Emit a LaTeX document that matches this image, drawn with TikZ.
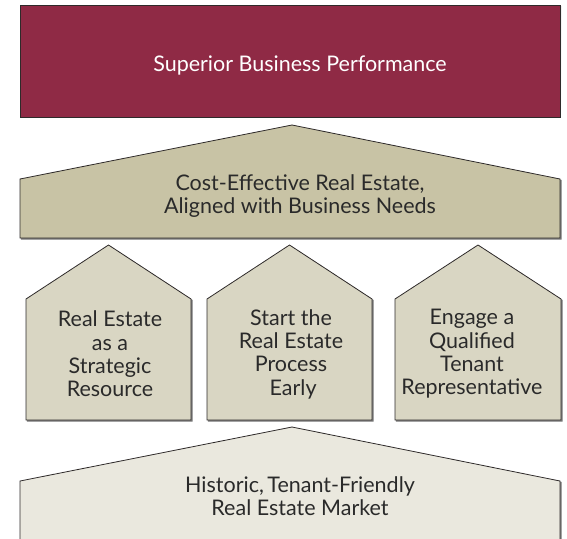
\documentclass[tikz,border=0pt]{standalone}
\usepackage{fontspec}
\setmainfont{Lato}
\definecolor{crimson}{HTML}{8F2A45}
\definecolor{khaki}{HTML}{C8C3A5}
\definecolor{stone}{HTML}{D9D6C3}
\definecolor{ivory}{HTML}{EAE8DE}
\definecolor{edge}{HTML}{2E2A2A}
\definecolor{ink}{HTML}{2A2A2A}
\definecolor{shade}{HTML}{7A7A7A}
\begin{document}
\begin{tikzpicture}[x=1pt,y=-1pt,
  block/.style={draw=edge, line width=0.8pt, line join=miter},
  dropshade/.style={fill=shade, draw=shade, line width=0.8pt, xshift=1.2pt, yshift=-1.2pt},
  label/.style={align=center, text=ink, font=\fontsize{21.5}{23.3}\selectfont, inner sep=0pt},
  toplabel/.style={label, text=white}]
\useasboundingbox (0,0) rectangle (567,538);

% top goal
\fill[shade] (21,6) rectangle (561,118.5);
\filldraw[block, fill=crimson] (20,5) rectangle (560,117);
\node[toplabel] (goal) at (300,66) {Superior Business Performance};

% roof: cost-effective real estate
\path[dropshade] (20,179) -- (292,125) -- (560,179) -- (560,238) -- (20,238) -- cycle;
\filldraw[block, fill=khaki] (20,179) -- (292,125) -- (560,179) -- (560,238) -- (20,238) -- cycle;
\node[label] (roof) at (300,196) {Cost-Effective Real Estate,\\Aligned with Business Needs};

% three pillars
\foreach \l/\r in {26/191, 207/372, 395/561}{
  \path[dropshade] (\l,299) -- ({(\l+\r)/2},245) -- (\r,299) -- (\r,420) -- (\l,420) -- cycle;
  \filldraw[block, fill=stone] (\l,299) -- ({(\l+\r)/2},245) -- (\r,299) -- (\r,420) -- (\l,420) -- cycle;
}
\node[label] (resource) at (110,354) {Real Estate\\as a\\Strategic\\Resource};
\node[label] (early) at (291,354) {Start the\\Real Estate\\Process\\\hspace*{0.2em}Early};
\node[label] (tenant) at (472,354) {Engage a\\Qualified\\Tenant\\Representative};

% foundation: market
\path[dropshade] (20,481) -- (292,427) -- (560,481) -- (560,545) -- (20,545) -- cycle;
\filldraw[block, fill=ivory] (20,481) -- (292,427) -- (560,481) -- (560,545) -- (20,545) -- cycle;
\node[label] (market) at (300,496) {Historic,\,Tenant-Friendly\\Real Estate Market};
\end{tikzpicture}
\end{document}
